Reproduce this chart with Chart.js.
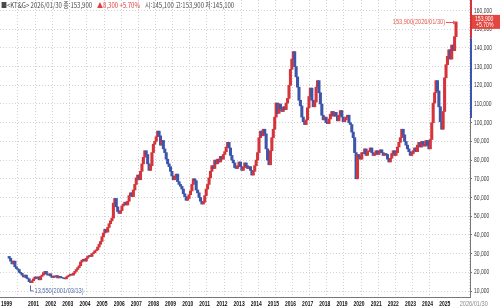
<!DOCTYPE html>
<html lang="ko">
<head>
<meta charset="UTF-8">
<title>KT&amp;G</title>
<script src="https://cdn.jsdelivr.net/npm/chart.js@4.4.1/dist/chart.umd.min.js"></script>
<style>
  html, body { margin: 0; padding: 0; background: #fff; }
  #wrap { width: 500px; height: 308px; position: relative; }
</style>
</head>
<body>
<div id="wrap"><canvas id="chart"></canvas></div>
<script>
// monthly closes from 1999-12 to 2026-01 (won)
const firstYear = 1999, firstMonth = 12;
const firstOpen = 28500;
const closes = [
  // 1999-12
  27500,
  // 2000
  26000, 24500, 26000, 23000, 22000, 21500, 20000, 19500, 18500, 17500, 18500, 17000,
  // 2001
  16500, 15000, 14500, 15500, 16500, 17500, 16800, 17500, 16000, 17800, 18500, 19800,
  // 2002
  20500, 19000, 18500, 19200, 18000, 17200, 18000, 17500, 18200, 17000, 17800, 17300,
  // 2003
  17000, 16800, 16500, 17500, 18000, 18500, 19000, 18500, 19500, 20500, 21500, 22500,
  // 2004
  23500, 25500, 26500, 27000, 26000, 27500, 28500, 29000, 28500, 30000, 30500, 31500,
  // 2005
  32000, 33500, 35000, 36500, 39000, 41000, 43000, 41500, 44000, 46000, 47500, 49000,
  // 2006
  57000, 59500, 55000, 52500, 51500, 53000, 55500, 56500, 57500, 56000, 58000, 61000,
  // 2007
  62500, 60500, 64000, 67000, 70500, 72000, 69500, 74000, 78000, 81500, 85000, 83000,
  // 2008
  78000, 74500, 77000, 84000, 88500, 90000, 92500, 95500, 93000, 88000, 90500, 86000,
  // 2009
  84000, 80500, 78000, 76500, 74000, 71500, 69500, 71000, 72500, 68500, 67000, 66000,
  // 2010
  64500, 62000, 60500, 58500, 59500, 61500, 63500, 67000, 70000, 69000, 64000, 62500,
  // 2011
  60000, 58000, 56500, 57500, 61000, 64500, 67000, 70500, 74000, 77000, 75500, 80000,
  // 2012
  78000, 80500, 79000, 82000, 80500, 83000, 84500, 87000, 89500, 86500, 82500, 80000,
  // 2013
  78500, 76000, 75500, 77000, 79000, 76500, 74500, 76000, 78500, 77000, 75500, 76500,
  // 2014
  74500, 72000, 74000, 77000, 80000, 84000, 92000, 95500, 93000, 96500, 94000, 86000,
  // 2015
  80000, 77500, 85000, 92000, 96500, 103000, 110500, 105000, 110000, 107500, 106000, 108500,
  // 2016
  107000, 110500, 113000, 120000, 128500, 134000, 138000, 130000, 124500, 119000, 112000, 109000,
  // 2017
  103000, 100500, 99000, 101500, 108000, 114000, 118500, 112000, 108500, 111000, 119000, 122500,
  // 2018
  116000, 110000, 104000, 101500, 103000, 100000, 99500, 102000, 104500, 106000, 103500, 105500,
  // 2019
  103500, 101000, 104000, 106500, 103000, 100500, 101500, 103000, 104000, 100000, 99000, 95000,
  // 2020
  92000, 84000, 70000, 83000, 82000, 80500, 84000, 83500, 86000, 82500, 84500, 85000,
  // 2021
  86500, 84000, 82500, 83500, 85000, 83000, 84000, 85500, 84000, 82500, 83500, 83000,
  // 2022
  80500, 79000, 81000, 83500, 85000, 82500, 84000, 87000, 89500, 92000, 96500, 93500,
  // 2023
  90000, 88000, 86000, 84500, 82500, 83500, 85000, 86500, 84500, 88000, 89500, 87000,
  // 2024
  90000, 88500, 87500, 90500, 88000, 86000, 91000, 100000, 110500, 116000, 122500, 117000,
  // 2025
  108500, 100500, 96500, 106000, 124000, 131000, 135500, 139000, 134000, 141500, 138500, 146000,
  // 2026-01
  153900
];

const yearTicks = [2001, 2002, 2003, 2004, 2005, 2006, 2007, 2008, 2009, 2010, 2011, 2012, 2013,
  2014, 2015, 2016, 2017, 2018, 2019, 2020, 2021, 2022, 2023, 2024, 2025];
const priceTicks = [10000, 20000, 30000, 40000, 50000, 60000, 70000, 80000,
  90000, 100000, 110000, 120000, 130000, 140000, 150000, 160000];

const lastClose = 153900, lastOpen = 145100, lastPct = '+5.70%';
const rangeLow = 102500;
const lowPrice = 13550, lowDate = [2001, 3, 13];
const headerParts = [
  { text: '■<KT&G> 2026/01/30 종:153,900', color: '#4a4a4a' },
  { text: '▲8,300 +5.70%', color: '#e0433f' },
  { text: '시:145,100 고:153,900 저:145,100', color: '#4a4a4a' }
];

const RED = '#d4343a', BLUE = '#3d56aa';
const xMin = 1999.93, xMax = 2026.35, lastLabelAt = 2026.2;

const monthPos = i => {
  const m = firstMonth - 1 + i;
  return firstYear + Math.floor(m / 12) + ((m % 12) + 0.5) / 12;
};
const candles = closes.map((c, i) => ({ x: monthPos(i), y: [i ? closes[i - 1] : firstOpen, c] }));
const candleColors = candles.map(d => d.y[1] >= d.y[0] ? RED : BLUE);
const fmt = v => v.toLocaleString('en-US');
const FONT = '"Liberation Sans", Arial, sans-serif';

// draw text squeezed horizontally (the original uses a narrow font)
function narrowText(ctx, text, x, y, sx) {
  ctx.save();
  ctx.translate(x, y);
  ctx.scale(sx, 1);
  ctx.fillText(text, 0, 0);
  ctx.restore();
}

const overlay = {
  id: 'overlay',
  afterDraw(chart) {
    const { ctx, chartArea: a, scales: { x, y } } = chart;
    ctx.save();
    ctx.textBaseline = 'middle';
    ctx.textAlign = 'left';

    // x labels
    const last = x.ticks.length - 1;
    x.ticks.forEach((t, i) => {
      const px = i === 0 ? a.left : x.getPixelForValue(t.value);
      const label = i === 0 ? '1999' : i === last ? '2026/01/30' : String(t.value);
      ctx.fillStyle = i === last ? '#8a8a8a' : '#111';
      ctx.font = (i === last ? '' : 'bold ') + '8px ' + FONT;
      narrowText(ctx, label, px + 1, a.bottom + 6.5, i === last ? 0.7 : 0.62);
    });

    // y labels
    ctx.font = '7.5px ' + FONT;
    ctx.fillStyle = '#3a3a3a';
    y.ticks.forEach(t => {
      narrowText(ctx, fmt(t.value), a.right + 4, y.getPixelForValue(t.value), 0.66);
    });

    // header line
    ctx.font = '7.5px "Noto Sans CJK KR", sans-serif';
    let px = 1;
    headerParts.forEach(p => {
      ctx.fillStyle = p.color;
      narrowText(ctx, p.text, px, 5, 0.8);
      px += ctx.measureText(p.text).width * 0.8 + 5;
    });

    // price strip at the right edge
    const yOpen = y.getPixelForValue(lastOpen);
    ctx.fillStyle = RED;
    ctx.fillRect(a.right, a.top, 2, yOpen - a.top);
    ctx.fillStyle = BLUE;
    ctx.fillRect(a.right, yOpen, 2, y.getPixelForValue(rangeLow) - yOpen);

    // current price box
    const yc = y.getPixelForValue(lastClose);
    ctx.fillStyle = '#e2463f';
    ctx.fillRect(a.right + 2, yc - 7, chart.width - a.right - 2, 14);
    ctx.fillStyle = '#fff';
    ctx.font = '7.5px ' + FONT;
    narrowText(ctx, fmt(lastClose), a.right + 5, yc - 3, 0.68);
    narrowText(ctx, lastPct, a.right + 6, yc + 3.5, 0.68);

    // last price label with arrow
    const xl = x.getPixelForValue(monthPos(closes.length - 1));
    const yr = Math.round(yc) + 0.5;
    ctx.strokeStyle = '#e35a50';
    ctx.fillStyle = '#e35a50';
    ctx.lineWidth = 1;
    ctx.beginPath();
    ctx.moveTo(xl - 10, yr);
    ctx.lineTo(xl - 1, yr);
    ctx.stroke();
    ctx.beginPath();
    ctx.moveTo(xl, yr);
    ctx.lineTo(xl - 3, yr - 2);
    ctx.lineTo(xl - 3, yr + 2);
    ctx.fill();
    ctx.font = '7.5px ' + FONT;
    const maxText = fmt(lastClose) + '(2026/01/30)';
    const mw = ctx.measureText(maxText).width * 0.75;
    narrowText(ctx, maxText, xl - 11 - mw, yc, 0.75);

    // low label
    const lx = Math.round(x.getPixelForValue(lowDate[0] + (lowDate[1] - 1 + lowDate[2] / 31) / 12)) + 0.5;
    const ly = y.getPixelForValue(lowPrice);
    ctx.strokeStyle = '#5670aa';
    ctx.fillStyle = '#5670aa';
    ctx.beginPath();
    ctx.moveTo(lx, ly + 1);
    ctx.lineTo(lx, ly + 6.5);
    ctx.lineTo(lx + 3, ly + 6.5);
    ctx.stroke();
    narrowText(ctx, fmt(lowPrice) + '(2001/03/13)', lx + 4, ly + 6.5, 0.75);
    ctx.restore();
  }
};

new Chart(document.getElementById('chart'), {
  type: 'bar',
  data: {
    datasets: [{
      data: candles,
      backgroundColor: candleColors,
      borderWidth: 0,
      barThickness: 2.4,
      grouped: false
    }]
  },
  options: {
    responsive: true,
    maintainAspectRatio: false,
    animation: false,
    layout: { padding: 0 },
    plugins: { legend: { display: false }, tooltip: { enabled: false } },
    scales: {
      x: {
        type: 'linear',
        min: xMin,
        max: xMax,
        afterBuildTicks: s => {
          s.ticks = [{ value: xMin }, ...yearTicks.map(v => ({ value: v })), { value: lastLabelAt }];
        },
        afterFit: s => { s.height = 11; s.paddingLeft = 0; s.paddingRight = 0; },
        grid: {
          color: c => c.index === 0 || c.index === yearTicks.length + 1 ? 'rgba(0,0,0,0)' : '#d2d2d2',
          drawTicks: false
        },
        border: { color: '#777', dash: [1, 2] },
        ticks: { display: false }
      },
      y: {
        position: 'right',
        min: 6800,
        max: 165600,
        afterBuildTicks: s => { s.ticks = priceTicks.map(v => ({ value: v })); },
        afterFit: s => { s.width = 30; },
        grid: { color: '#d2d2d2', tickColor: '#777', tickLength: 2 },
        border: { color: '#777', dash: [1, 2] },
        ticks: { display: false }
      }
    }
  },
  plugins: [overlay]
});
</script>
</body>
</html>
